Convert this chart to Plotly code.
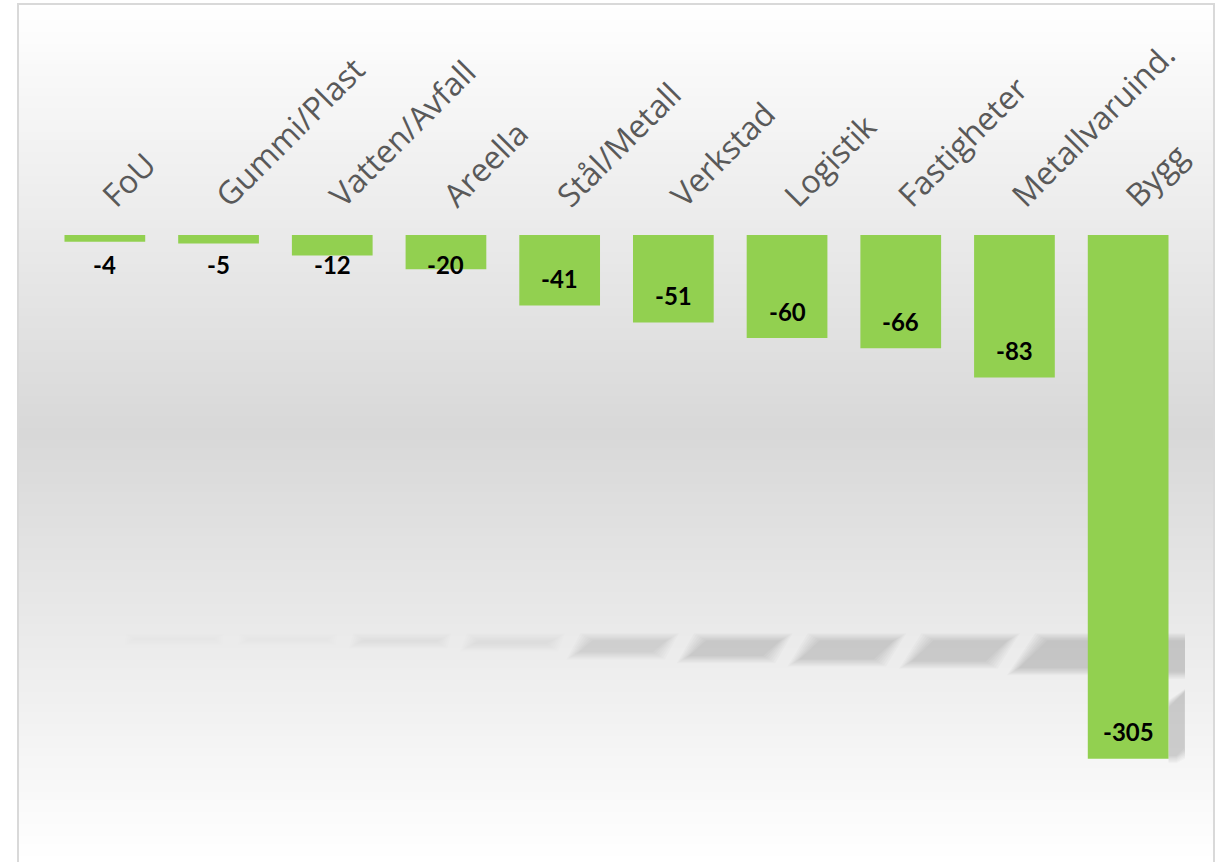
import plotly.graph_objects as go

# Sector values
categories = ["FoU", "Gummi/Plast", "Vatten/Avfall", "Areella", "Stål/Metall",
              "Verkstad", "Logistik", "Fastigheter", "Metallvaruind.", "Bygg"]
values = [-4, -5, -12, -20, -41, -51, -60, -66, -83, -305]

# Page / plot geometry (pixels)
W, H = 1223, 862
ML, MR, MT, MB = 48, 38, 235, 26
PW, PH = W - ML - MR, H - MT - MB
Y_MIN = -350
PX_PER_CAT = PW / len(categories)
PX_PER_UNIT = PH / (0 - Y_MIN)

BAR_COLOR = "#92D050"


def paper_x(px):
    return (px - ML) / PW


def paper_y(py):
    return (H - MB - py) / PH


shapes = []

# Vertical white-grey-white gradient inside the chart frame
FRAME_L, FRAME_T, FRAME_R = 18, 4, 1214
step = 4
py = FRAME_T
while py < H:
    t = (py + step / 2 - FRAME_T) / (H - FRAME_T)
    dark = 216
    if t < 0.5:
        c = 255 - (255 - dark) * (t / 0.5)
    else:
        c = dark + (255 - dark) * ((t - 0.5) / 0.5)
    c = int(round(c))
    shapes.append(dict(
        type="rect", xref="paper", yref="paper", layer="below",
        x0=paper_x(FRAME_L), x1=paper_x(FRAME_R),
        y0=paper_y(py), y1=paper_y(py + step + 0.5),
        line=dict(width=0), fillcolor=f"rgb({c},{c},{c})",
    ))
    py += step

# Chart frame (top, left, right edges)
fx0, fx1 = paper_x(FRAME_L), paper_x(FRAME_R)
fy_top, fy_bot = paper_y(FRAME_T), paper_y(H + 10)
shapes.append(dict(
    type="path", xref="paper", yref="paper", layer="below",
    path=f"M {fx0},{fy_bot} L {fx0},{fy_top} L {fx1},{fy_top} L {fx1},{fy_bot}",
    line=dict(color="#d9d9d9", width=2), fillcolor="rgba(0,0,0,0)",
))

# Soft perspective shadows of the bars cast on the floor
FLOOR_Y = -235.0           # data units where the floor shadows start
SHIFT_PX = 70              # horizontal offset of the shadow
HALF_W = 0.355             # half bar width in category units
BLUR = [-3, -1, 1, 3, 5, 7, 9]


def to_cat(px):
    return px / PX_PER_CAT


def to_unit(px):
    return px / PX_PER_UNIT


for i, v in enumerate(values):
    depth = min(0.22 * abs(v), to_unit(35))
    depth_px = depth * PX_PER_UNIT
    alpha = 0.17 * min(1.0, (depth_px / 30) ** 0.7)
    x_top0 = i - HALF_W + to_cat(SHIFT_PX)
    x_top1 = i + HALF_W + to_cat(SHIFT_PX)
    skew = to_cat(depth_px * 0.9)
    for e in BLUR:
        ex = to_cat(e)
        ey = to_unit(max(e * 0.6, -depth_px * 0.4))
        y_t = FLOOR_Y + ey
        y_b = FLOOR_Y - depth - ey
        path = (f"M {x_top0 - ex},{y_t} L {x_top1 + ex},{y_t} "
                f"L {x_top1 + ex - skew},{y_b} L {x_top0 - ex - skew},{y_b} Z")
        shapes.append(dict(
            type="path", xref="x", yref="y", layer="below", path=path,
            line=dict(width=0), fillcolor=f"rgba(0,0,0,{alpha / len(BLUR):.4f})",
        ))
    # Side shadow for bars that reach far below the floor
    piece_top = FLOOR_Y - to_unit(35 + 17)
    if v < piece_top - to_unit(20):
        xr = i + HALF_W
        for e in BLUR:
            ex, ey = to_cat(e * 0.5), to_unit(e * 0.6)
            path = (f"M {xr},{piece_top - to_unit(15) + ey} "
                    f"L {xr + to_cat(17) + ex},{piece_top + ey} "
                    f"L {xr + to_cat(17) + ex},{v + to_unit(8) - ey} "
                    f"L {xr + to_cat(8)},{v + to_unit(1) - ey} "
                    f"L {xr},{v + to_unit(1) - ey} Z")
            shapes.append(dict(
                type="path", xref="x", yref="y", layer="below", path=path,
                line=dict(width=0), fillcolor=f"rgba(0,0,0,{0.17 / len(BLUR):.4f})",
            ))

# Value labels: near the inner end of the bar, never closer than a minimum to the axis
annotations = []
for i, v in enumerate(values):
    y_lab = min(v + to_unit(27), -to_unit(29.5))
    annotations.append(dict(
        x=i, y=y_lab, xref="x", yref="y", text=str(v), showarrow=False,
        font=dict(family="Lato", size=24, color="#000000", weight=700),
        xanchor="center", yanchor="middle",
    ))

fig = go.Figure(go.Bar(
    x=categories, y=values, marker=dict(color=BAR_COLOR, line=dict(width=0)),
    width=0.71, hoverinfo="x+y",
))

fig.update_layout(
    width=W, height=H,
    margin=dict(l=ML, r=MR, t=MT, b=MB, pad=0),
    paper_bgcolor="#ffffff", plot_bgcolor="rgba(0,0,0,0)",
    showlegend=False,
    shapes=shapes, annotations=annotations,
    xaxis=dict(
        side="top", tickangle=-45, showline=False, ticks="", showgrid=False,
        zeroline=False, range=[-0.5, len(categories) - 0.5],
        tickfont=dict(family="Open Sans", size=32, color="#595959"),
        ticklabelstandoff=14,
    ),
    yaxis=dict(
        range=[Y_MIN, 0], visible=False, showgrid=False, zeroline=False,
    ),
)

fig.write_html("out.html")
